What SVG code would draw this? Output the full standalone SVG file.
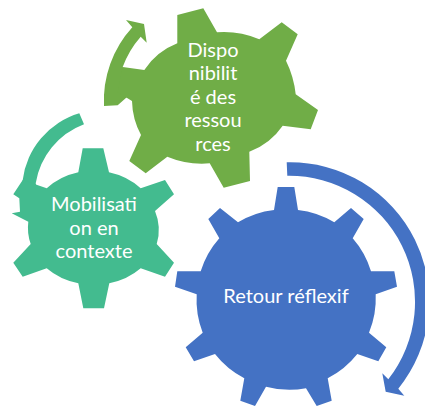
<svg xmlns="http://www.w3.org/2000/svg" width="425" height="406" viewBox="0 0 425 406">
<style>
text{font-family:Lato,"Open Sans","Liberation Sans",sans-serif;font-size:20px;fill:#fff;text-anchor:middle}
.g{fill:#70AD47}.t{fill:#43BB8F}.b{fill:#4472C4}
</style>
<rect width="425" height="406" fill="#fff"/>
<g id="connectors">
<path class="g" d="M104 106A109 109 0 0 1 132.3 27.3L126 20L144 24L146.7 42.7L140.7 36.7A95 95 0 0 0 122.7 67L135 90L117.7 105.3Z"/>
<path class="t" d="M79.3 113.3L84 124.3A76 76 0 0 0 35.7 183.3L40 200L20 200L22.7 180A80 80 0 0 1 79.3 113.3Z"/>
<path class="b" d="M286.7 162.3A139 139 0 0 1 398.3 388.7L404.3 395.7L385.7 391.7L382.3 373.3L388.3 379.3A126 126 0 0 0 287.3 175.7Z"/>
</g>
<g id="node-disponibilite">
<path class="g" d="M177.3 43.3L177.3 15L203.3 8.3L217 32.3A90 90 0 0 1 259.3 39.3L281.7 22.3L297.7 34.3L286 60.7A100 100 0 0 1 295.7 94.3L318 110L310.7 129.3L282.7 125.7A70 70 0 0 1 249.3 151.7L250 181L223.7 187.7L209.7 163.3A90 90 0 0 1 167.3 156.7L145.7 173.3L129.3 161L141 135A75 75 0 0 1 132 101L117.7 92.3L122.7 67L144.3 70A70 70 0 0 1 177.3 43.3Z"/>
<text x="213" y="57">Dispo</text><text x="213" y="80">nibilit</text><text x="213" y="104">é des</text><text x="213" y="127">ressou</text><text x="213" y="151">rces</text>
</g>
<g id="node-mobilisation">
<path class="t" d="M82.7 148.3L103.3 148.3L109 172.3A65 56 0 0 1 140.7 188.3L165 180L174 194.3L155 211A65 56 0 0 1 156.7 244L174 262.7L165 276.7L140.7 268.3A65 56 0 0 1 109.3 283.3L104 308.3L83.3 308.3L78.3 283.3A65 56 0 0 1 46.7 268.3L22.7 276.7L13.3 262.7L30.7 244A65 56 0 0 1 28.3 221.7L11.7 213.3L20 211.7L19.3 198.3L13.3 194.3L22.7 180L46.7 188.3A65 56 0 0 1 78.3 172.3Z"/>
<text x="94" y="211">Mobilisati</text><text x="94" y="235">on en</text><text x="94" y="258">contexte</text>
</g>
<g id="node-retour">
<path class="b" d="M277.7 187L294.3 187L298 210A90 90 0 0 1 334.3 222.3L351 208L363.7 219L352.7 238.3A90 90 0 0 1 371 271.3L394.3 271.3L397 286.7L375.7 294.3A90 90 0 0 1 369 332.7L386.3 347.3L378.3 361.3L357.3 354A90 90 0 0 1 327.7 378.3L331.7 400.7L316.7 406L306 388.3A90 90 0 0 1 266 386.7L255 406L240.3 400.7L244.3 378.3A90 90 0 0 1 215 354L194 361.3L185.7 347.3L202.7 332.7A90 90 0 0 1 196.7 294.3L175 286.7L177.3 271.3L200.7 271.3A90 90 0 0 1 219.3 238.3L208.3 219L220 208L238 222.3A90 90 0 0 1 274 210Z"/>
<text x="286" y="303">Retour réflexif</text>
</g>
</svg>
